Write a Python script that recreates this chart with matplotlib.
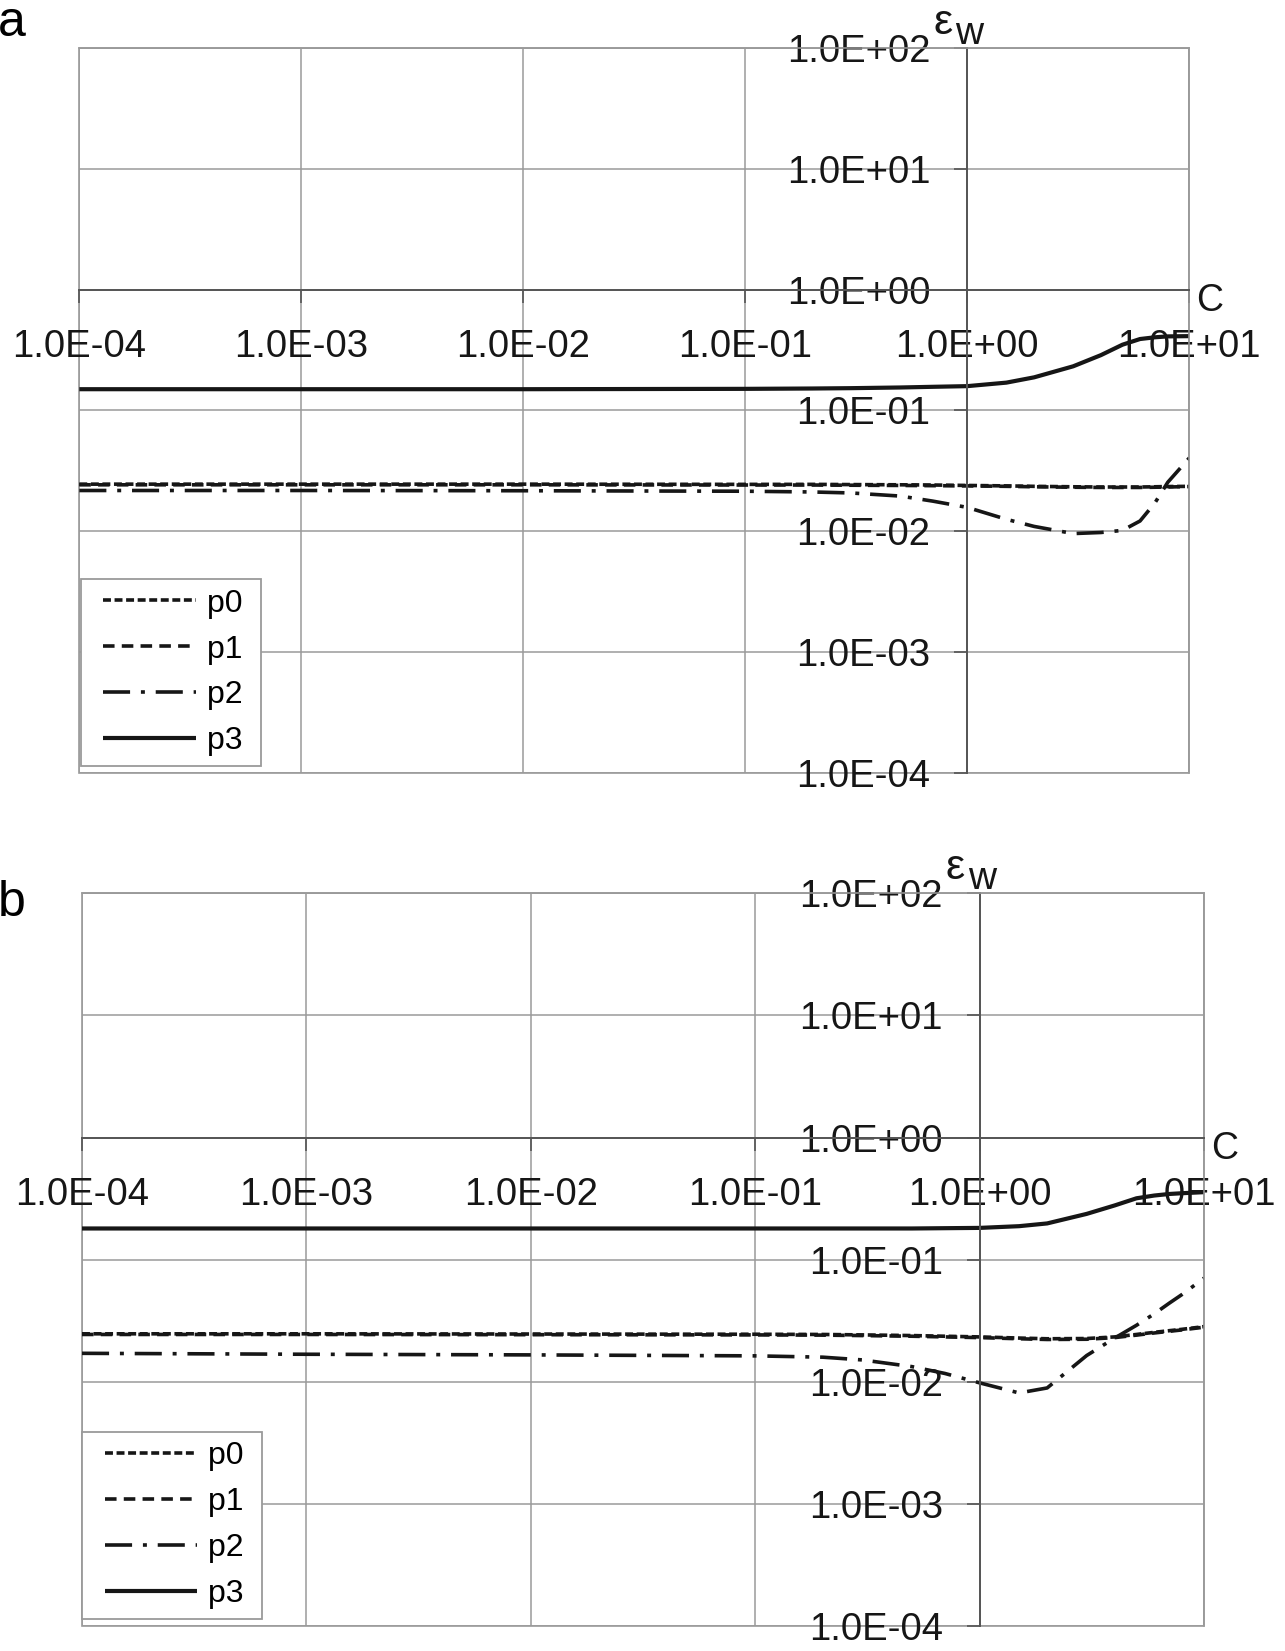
import matplotlib
matplotlib.use("Agg")
import matplotlib.pyplot as plt
import matplotlib.transforms as mtransforms
from matplotlib.patches import Rectangle
from matplotlib.ticker import NullLocator
from matplotlib.legend_handler import HandlerLine2D

plt.rcParams['font.family'] = ['Liberation Sans', 'DejaVu Sans']

# Data
C = [1e-4, 1e-3, 1e-2, 0.1, 0.2, 0.3, 0.5, 0.7, 1, 1.5, 2, 3, 4, 5, 6, 7, 8, 10]

a_p0 = [0.0246, 0.0246, 0.0246, 0.0245, 0.0245, 0.0244, 0.0243, 0.0242, 0.0240,
        0.0238, 0.0236, 0.0234, 0.0233, 0.0233, 0.0233, 0.0234, 0.0235, 0.0236]
a_p1 = [0.0243, 0.0243, 0.0243, 0.0242, 0.0242, 0.0241, 0.0240, 0.0239, 0.0238,
        0.0236, 0.0234, 0.0232, 0.0231, 0.0231, 0.0231, 0.0232, 0.0233, 0.0235]
a_p2 = [0.0218, 0.0218, 0.0217, 0.0215, 0.0212, 0.0208, 0.0196, 0.0178, 0.0158,
        0.0126, 0.0110, 0.0096, 0.0098, 0.0102, 0.0122, 0.0172, 0.0255, 0.0405]
a_p3 = [0.150, 0.150, 0.150, 0.151, 0.152, 0.153, 0.155, 0.157, 0.159,
        0.170, 0.188, 0.232, 0.287, 0.350, 0.390, 0.403, 0.410, 0.412]

b_p0 = [0.0247, 0.0247, 0.0246, 0.0245, 0.0244, 0.0242, 0.0239, 0.0236, 0.0233,
        0.0228, 0.0225, 0.0226, 0.0233, 0.0244, 0.0254, 0.0262, 0.0269, 0.0283]
b_p1 = [0.0244, 0.0244, 0.0243, 0.0242, 0.0241, 0.0239, 0.0236, 0.0233, 0.0230,
        0.0225, 0.0222, 0.0223, 0.0230, 0.0241, 0.0251, 0.0259, 0.0266, 0.0280]
b_p2 = [0.0171, 0.0168, 0.0166, 0.0163, 0.0159, 0.0151, 0.0133, 0.0117, 0.0098,
        0.0081, 0.0089, 0.0164, 0.0228, 0.0290, 0.0360, 0.0440, 0.0520, 0.0705]
b_p3 = [0.180, 0.180, 0.180, 0.180, 0.180, 0.180, 0.180, 0.181, 0.182,
        0.188, 0.198, 0.237, 0.278, 0.318, 0.335, 0.345, 0.350, 0.357]

panels = {'a': [a_p0, a_p1, a_p2, a_p3], 'b': [b_p0, b_p1, b_p2, b_p3]}
series_names = ['p0', 'p1', 'p2', 'p3']

x_ticks = [1e-4, 1e-3, 1e-2, 1e-1, 1e0, 1e1]
x_tick_labels = ['1.0E-04', '1.0E-03', '1.0E-02', '1.0E-01', '1.0E+00', '1.0E+01']
y_ticks = [1e-4, 1e-3, 1e-2, 1e-1, 1e0, 1e1, 1e2]
y_tick_labels = ['1.0E-04', '1.0E-03', '1.0E-02', '1.0E-01', '1.0E+00', '1.0E+01', '1.0E+02']

# styles
grid_col = '#9a9a9a'
axis_col = '#555555'
ink = '#161616'
line_styles = [
    dict(linestyle=(0, (2.2, 1.0)), lw=2.6),
    dict(linestyle=(0, (3.2, 2.0)), lw=2.6),
    dict(linestyle=(0, (7.5, 3.0, 1.1, 3.0)), lw=2.6),
    dict(linestyle='-', lw=3.0),
]

fig = plt.figure(figsize=(12.85, 16.51), dpi=100)
rects = {'a': [0.06171, 0.53162, 0.86381, 0.43949],
         'b': [0.06381, 0.01514, 0.87315, 0.44379]}
legend_anchor = {'a': (0.0013, 0.0100), 'b': (0.0, 0.0096)}

for key in ['a', 'b']:
    ax = fig.add_axes(rects[key])
    ax.set_xscale('log')
    ax.set_yscale('log')
    ax.set_xlim(1e-4, 1e1)
    ax.set_ylim(1e-4, 1e2)

    for vals, name, st in zip(panels[key], series_names, line_styles):
        ax.plot(C, vals, color=ink, label=name, dash_capstyle='butt',
                solid_capstyle='butt', **st)

    ax.set_xticks(x_ticks, x_tick_labels)
    ax.set_yticks(y_ticks, y_tick_labels)
    ax.xaxis.set_minor_locator(NullLocator())
    ax.yaxis.set_minor_locator(NullLocator())
    ax.grid(True, color=grid_col, lw=1.1)
    ax.set_axisbelow(True)

    # axes cross at (1, 1)
    ax.spines['left'].set_position(('data', 1))
    ax.spines['bottom'].set_position(('data', 1))
    for s in ['left', 'bottom']:
        ax.spines[s].set_color(axis_col)
        ax.spines[s].set_linewidth(1.4)
    for s in ['top', 'right']:
        ax.spines[s].set_color(grid_col)
        ax.spines[s].set_linewidth(1.1)
    ax.add_patch(Rectangle((0, 0), 1, 1, transform=ax.transAxes, fill=False,
                           edgecolor=grid_col, lw=1.2, clip_on=False, zorder=0.5))

    ax.tick_params(axis='both', which='major', direction='out', length=9.5,
                   width=1.2, color=axis_col, labelsize=27.5, labelcolor=ink)
    ax.tick_params(axis='x', pad=19)
    ax.tick_params(axis='y', pad=17)

    # axis names
    tr_x = mtransforms.blended_transform_factory(ax.transAxes, ax.transData)
    ax.annotate('C', xy=(1, 1), xycoords=tr_x, xytext=(7, -11),
                textcoords='offset pixels', ha='left', va='center', fontsize=27,
                color=ink)
    tr_y = mtransforms.blended_transform_factory(ax.transData, ax.transAxes)
    ax.annotate('ε', xy=(1, 1), xycoords=tr_y, xytext=(-34, 14),
                textcoords='offset pixels', ha='left', va='baseline', fontsize=31,
                color=ink, annotation_clip=False)
    ax.annotate('w', xy=(1, 1), xycoords=tr_y, xytext=(-12, 4),
                textcoords='offset pixels', ha='left', va='baseline', fontsize=28,
                color=ink, annotation_clip=False)

    leg = ax.legend(loc='lower left', bbox_to_anchor=legend_anchor[key],
                    borderaxespad=0, fontsize=23, handlelength=3.31,
                    handletextpad=0.33, borderpad=0.3, labelspacing=0.5,
                    fancybox=False, framealpha=1, edgecolor=grid_col,
                    handler_map={plt.Line2D: HandlerLine2D(xpad=0.41)})
    leg.get_frame().set_linewidth(1.3)
    for t in leg.get_texts():
        t.set_text(t.get_text() + ' ')

fig.text(-0.002, 1 - 36 / 1651, 'a', fontsize=36, ha='left', va='baseline')
fig.text(-0.002, 1 - 916 / 1651, 'b', fontsize=36, ha='left', va='baseline')

fig.savefig('out.png', dpi=100)
